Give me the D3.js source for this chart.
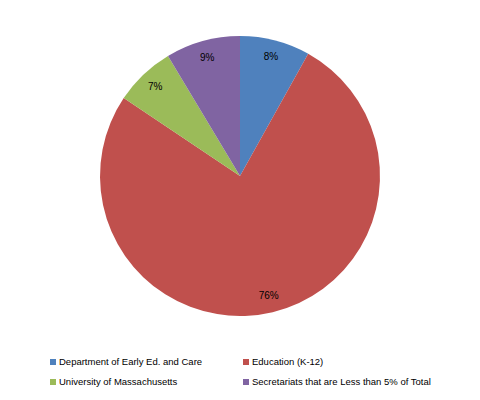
<!DOCTYPE html>
<html><head><meta charset="utf-8">
<script src="https://cdn.jsdelivr.net/npm/d3@7"></script>
<style>body{margin:0;background:#fff}</style>
</head><body>
<script>
const categories = ["Department of Early Ed. and Care", "Education (K-12)", "University of Massachusetts", "Secretariats that are Less than 5% of Total"];
const values = [8.1, 76.3, 7.0, 8.6];
const labels = ["8%", "76%", "7%", "9%"];
const colors = ["#4F81BD", "#C0504D", "#9BBB59", "#8064A2"];

const W = 480, H = 400, cx = 240, cy = 176, R = 140;
const svg = d3.select("body").append("svg").attr("width", W).attr("height", H);
const pie = d3.pie().sort(null).value(d => d)(values);
const arc = d3.arc().innerRadius(0).outerRadius(R);
const lab = d3.arc().innerRadius(123).outerRadius(123);
const g = svg.append("g").attr("transform", `translate(${cx},${cy})`);
g.selectAll("path").data(pie).join("path").attr("d", arc).attr("fill", (d, i) => colors[i]);
g.selectAll("text").data(pie).join("text")
  .attr("transform", d => `translate(${lab.centroid(d)})`)
  .attr("text-anchor", "middle").attr("dy", "0.35em")
  .attr("font-family", "Liberation Sans, Arial, sans-serif").attr("font-size", 10)
  .text((d, i) => labels[i]);

const lg = svg.append("g").attr("font-family", "Liberation Sans, Arial, sans-serif").attr("font-size", 9.5);
categories.forEach((c, i) => {
  const x = i % 2 === 0 ? 50 : 243, y = i < 2 ? 362 : 382;
  lg.append("rect").attr("x", x).attr("y", y - 3).attr("width", 6).attr("height", 6).attr("fill", colors[i]);
  lg.append("text").attr("x", x + 9).attr("y", y).attr("dy", "0.35em").text(c);
});
</script>
</body></html>
